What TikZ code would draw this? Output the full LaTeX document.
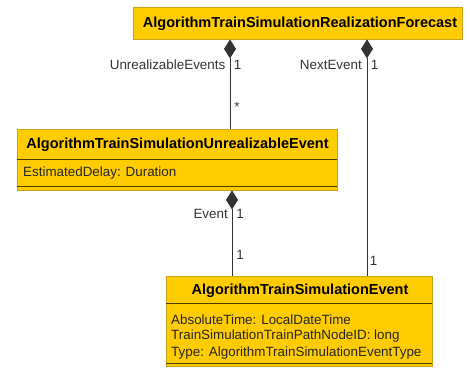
\documentclass[tikz,border=0pt]{standalone}
\usepackage{fontspec}
\setmainfont{Liberation Sans}
\usetikzlibrary{arrows.meta}
\definecolor{classfill}{HTML}{FFCC00}
\definecolor{classedge}{HTML}{C9A41A}
\definecolor{sepline}{HTML}{4A3C00}
\definecolor{ink}{HTML}{333333}
\tikzset{
  classbox/.style={draw=classedge, fill=classfill, line width=0.8pt, inner sep=0pt},
  classtitle/.style={font=\fontsize{14.5}{16}\selectfont\bfseries, text=black, inner sep=0pt},
  attr/.style={font=\fontsize{13.4}{17}\selectfont, text=black!85, inner sep=0pt, anchor=west},
  lbl/.style={font=\fontsize{13.4}{16}\selectfont, text=ink, inner sep=0pt},
  sep/.style={draw=sepline, line width=0.8pt},
  comp/.style={draw=ink, line width=0.9pt, {Diamond[length=19pt,width=12pt]}-},
}
\begin{document}
\begin{tikzpicture}[x=1pt,y=-1pt]
\useasboundingbox (0,0) rectangle (470,367);

% Class boxes
\node[classbox, minimum width=329pt, minimum height=32pt] (fc) at (297.5,23) {};
\node[classbox, minimum width=320pt, minimum height=61pt] (ue) at (177,159.5) {};
\node[classbox, minimum width=266pt, minimum height=90pt] (ev) at (299,321) {};

% Compartment separators
\draw[sep] (17,159) -- (337,159);
\draw[sep] (17,186.5) -- (337,186.5);
\draw[sep] (166,303.5) -- (432,303.5);
\draw[sep] (166,363) -- (432,363);

% Titles
\node[classtitle] (fct) at (300,23.5) {AlgorithmTrainSimulationRealizationForecast};
\node[classtitle] (uet) at (177.5,144.5) {AlgorithmTrainSimulationUnrealizableEvent};
\node[classtitle] (evt) at (300,291) {AlgorithmTrainSimulationEvent};

% Attributes
\node[attr] (a1) at (23,173) {EstimatedDelay: Duration};
\node[attr] (a2) at (171,320) {AbsoluteTime: LocalDateTime};
\node[attr] (a3) at (171,336.5) {TrainSimulationTrainPathNodeID: long};
\node[attr] (a4) at (171,353) {Type: AlgorithmTrainSimulationEventType};

% Connector columns
\coordinate (cA) at (230,0);
\coordinate (cB) at (367,0);
\coordinate (cC) at (232,0);

% Composition associations
\draw[comp] (fc.south -| cA) -- (ue.north -| cA);
\draw[comp] (fc.south -| cB) -- (ev.north -| cB);
\draw[comp] (ue.south -| cC) -- (ev.north -| cC);

% Role names and multiplicities
\node[lbl, anchor=east] (r1) at (225.5,65) {UnrealizableEvents};
\node[lbl] (m1) at (237.5,65) {1};
\node[lbl] (m2) at (237,107) {*};
\node[lbl, anchor=east] (r2) at (362,65) {NextEvent};
\node[lbl] (m3) at (374.5,65) {1};
\node[lbl, anchor=east] (r3) at (228,214) {Event};
\node[lbl] (m4) at (240,214) {1};
\node[lbl] (m5) at (240,255) {1};
\node[lbl] (m6) at (373.5,261) {1};
\end{tikzpicture}
\end{document}
